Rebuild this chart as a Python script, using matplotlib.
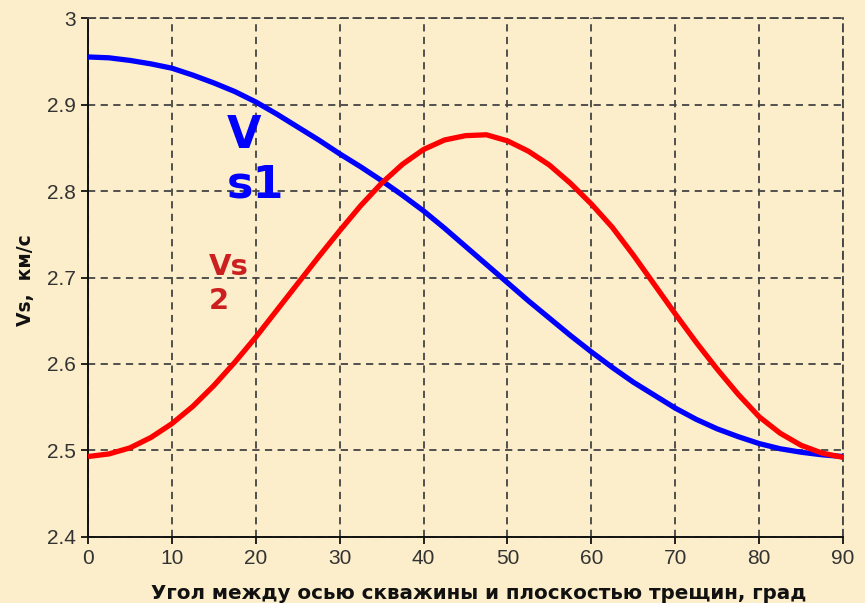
import numpy as np
import matplotlib
matplotlib.use('Agg')
import matplotlib.pyplot as plt

plt.rcParams['font.family'] = ['Liberation Sans', 'DejaVu Sans']

# Угол (град) и скорости (км/с)
angle = [0, 2.5, 5, 7.5, 10, 12.5, 15, 17.5, 20, 22.5, 25, 27.5, 30, 32.5, 35, 37.5,
         40, 42.5, 45, 47.5, 50, 52.5, 55, 57.5, 60, 62.5, 65, 67.5, 70, 72.5, 75,
         77.5, 80, 82.5, 85, 87.5, 90]
vs1 = [2.955, 2.954, 2.951, 2.947, 2.942, 2.934, 2.925, 2.915, 2.903, 2.889, 2.874,
       2.859, 2.843, 2.828, 2.812, 2.795, 2.777, 2.757, 2.736, 2.715, 2.694, 2.673,
       2.653, 2.633, 2.614, 2.596, 2.579, 2.564, 2.549, 2.536, 2.525, 2.516, 2.508,
       2.502, 2.498, 2.495, 2.493]
vs2 = [2.493, 2.496, 2.503, 2.515, 2.531, 2.551, 2.575, 2.602, 2.631, 2.662, 2.693,
       2.724, 2.754, 2.783, 2.809, 2.831, 2.848, 2.859, 2.864, 2.865, 2.858, 2.846,
       2.830, 2.809, 2.785, 2.758, 2.726, 2.692, 2.658, 2.625, 2.594, 2.565, 2.539,
       2.520, 2.506, 2.497, 2.492]

xticks = [0, 10, 20, 30, 40, 50, 60, 70, 80, 90]
yticks = [2.4, 2.5, 2.6, 2.7, 2.8, 2.9, 3.0]
ytick_labels = ['2.4', '2.5', '2.6', '2.7', '2.8', '2.9', '3']

bg = '#FCEECB'
grid_col = '#444444'

fig = plt.figure(figsize=(8.65, 6.03), dpi=100, facecolor=bg)
ax = fig.add_axes([0.1017, 0.1095, 0.8729, 0.8606], facecolor=bg)

ax.plot(angle, vs1, color='#0000FF', lw=3.8, solid_joinstyle='round', solid_capstyle='butt', zorder=3)
ax.plot(angle, vs2, color='#FF0000', lw=3.8, solid_joinstyle='round', solid_capstyle='butt', zorder=4)

ax.set_xlim(0, 90)
ax.set_ylim(2.4, 3.0)
ax.set_xticks(xticks)
ax.set_yticks(yticks)
ax.set_yticklabels(ytick_labels)

ax.grid(True, color=grid_col, linestyle=(0, (4, 3)), linewidth=1.3)
ax.set_axisbelow(True)

for side in ['top', 'right']:
    ax.spines[side].set_color(grid_col)
    ax.spines[side].set_linestyle((0, (4, 3)))
    ax.spines[side].set_linewidth(1.3)
for side in ['left', 'bottom']:
    ax.spines[side].set_color('#111111')
    ax.spines[side].set_linewidth(1.4)

ax.tick_params(axis='both', direction='out', length=5, width=1.3, color='#111111',
               labelsize=15, labelcolor='#333333', pad=4)

# Подписи кривых
ax.text(16.6, 2.889, 'V\ns1', color='#0000FF', fontsize=32, fontweight='bold',
        family='DejaVu Sans', ha='left', va='top', linespacing=1.18, zorder=5)
ax.text(14.4, 2.728, 'Vs\n2', color='#CC2020', fontsize=21, fontweight='bold',
        family='DejaVu Sans', ha='left', va='top', linespacing=1.25, zorder=5)

fig.text(0.03, 0.535, 'Vs,  км/с', rotation=90, fontsize=13.5, fontweight='bold',
         family='DejaVu Sans', ha='center', va='center', color='#111111')
fig.text(0.553, 0.0, 'Угол между осью скважины и плоскостью трещин, град', fontsize=14.3,
         fontweight='bold', family='DejaVu Sans', ha='center', va='bottom', color='#111111')

fig.savefig('out.png', dpi=100, facecolor=bg)
